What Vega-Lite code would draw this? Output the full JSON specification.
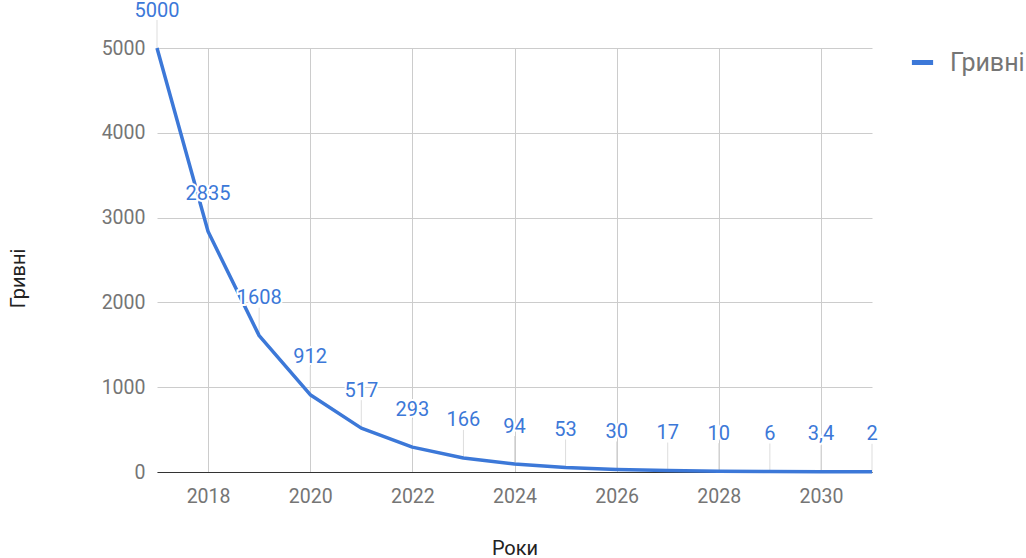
{
  "$schema": "https://vega.github.io/schema/vega-lite/v6.json",
  "width": 715,
  "height": 424,
  "autosize": {"type": "none"},
  "padding": {"left": 157, "top": 48, "right": 154, "bottom": 86},
  "background": "white",
  "config": {"font": "Roboto", "view": {"stroke": null}},
  "data": {
    "values": [
      {"year": 2017, "value": 5000, "label": "5000"},
      {"year": 2018, "value": 2835, "label": "2835"},
      {"year": 2019, "value": 1608, "label": "1608"},
      {"year": 2020, "value": 912, "label": "912"},
      {"year": 2021, "value": 517, "label": "517"},
      {"year": 2022, "value": 293, "label": "293"},
      {"year": 2023, "value": 166, "label": "166"},
      {"year": 2024, "value": 94, "label": "94"},
      {"year": 2025, "value": 53, "label": "53"},
      {"year": 2026, "value": 30, "label": "30"},
      {"year": 2027, "value": 17, "label": "17"},
      {"year": 2028, "value": 10, "label": "10"},
      {"year": 2029, "value": 6, "label": "6"},
      {"year": 2030, "value": 3.4, "label": "3,4"},
      {"year": 2031, "value": 2, "label": "2"}
    ]
  },
  "encoding": {
    "x": {
      "field": "year",
      "type": "quantitative",
      "scale": {"domain": [2017, 2031], "nice": false, "zero": false},
      "axis": {
        "values": [2018, 2020, 2022, 2024, 2026, 2028, 2030],
        "format": "d",
        "domainColor": "#333333",
        "domainWidth": 1,
        "ticks": false,
        "labelPadding": 15,
        "labelFontSize": 19.5,
        "labelColor": "#757575",
        "gridColor": "#cccccc",
        "title": "Роки",
        "titleFontSize": 20,
        "titleFontWeight": "normal",
        "titleColor": "#222222",
        "titleY": 76,
        "titleBaseline": "middle"
      }
    },
    "y": {
      "field": "value",
      "type": "quantitative",
      "scale": {"domain": [0, 5000], "nice": false},
      "axis": {
        "values": [0, 1000, 2000, 3000, 4000, 5000],
        "format": "d",
        "domain": false,
        "ticks": false,
        "labelPadding": 12,
        "labelFontSize": 19.5,
        "labelColor": "#757575",
        "gridColor": "#cccccc",
        "title": "Гривні",
        "titleFontSize": 20,
        "titleFontWeight": "normal",
        "titleColor": "#222222",
        "titleX": -139,
        "titleY": 230,
        "titleAlign": "center",
        "titleBaseline": "middle"
      }
    }
  },
  "layer": [
    {
      "mark": {"type": "rule", "color": "#dddddd", "strokeWidth": 1, "y2Offset": -28},
      "encoding": {"y2": {"field": "value"}}
    },
    {
      "mark": {"type": "line", "strokeWidth": 3.5, "strokeJoin": "round"},
      "encoding": {
        "color": {
          "datum": "Гривні",
          "type": "nominal",
          "scale": {"range": ["#3c78d8"]},
          "legend": {
            "orient": "none",
            "legendX": 752,
            "legendY": 1,
            "title": null,
            "symbolType": "stroke",
            "symbolStrokeWidth": 5,
            "symbolSize": 450,
            "labelFontSize": 25,
            "labelColor": "#757575",
            "labelOffset": 14
          }
        }
      }
    },
    {
      "mark": {"type": "text", "dy": -37.5, "fontSize": 20, "fill": "white", "stroke": "white", "strokeWidth": 4, "baseline": "middle"},
      "encoding": {"text": {"field": "label"}}
    },
    {
      "mark": {"type": "text", "dy": -37.5, "fontSize": 20, "fill": "#3c78d8", "baseline": "middle"},
      "encoding": {"text": {"field": "label"}}
    }
  ]
}
